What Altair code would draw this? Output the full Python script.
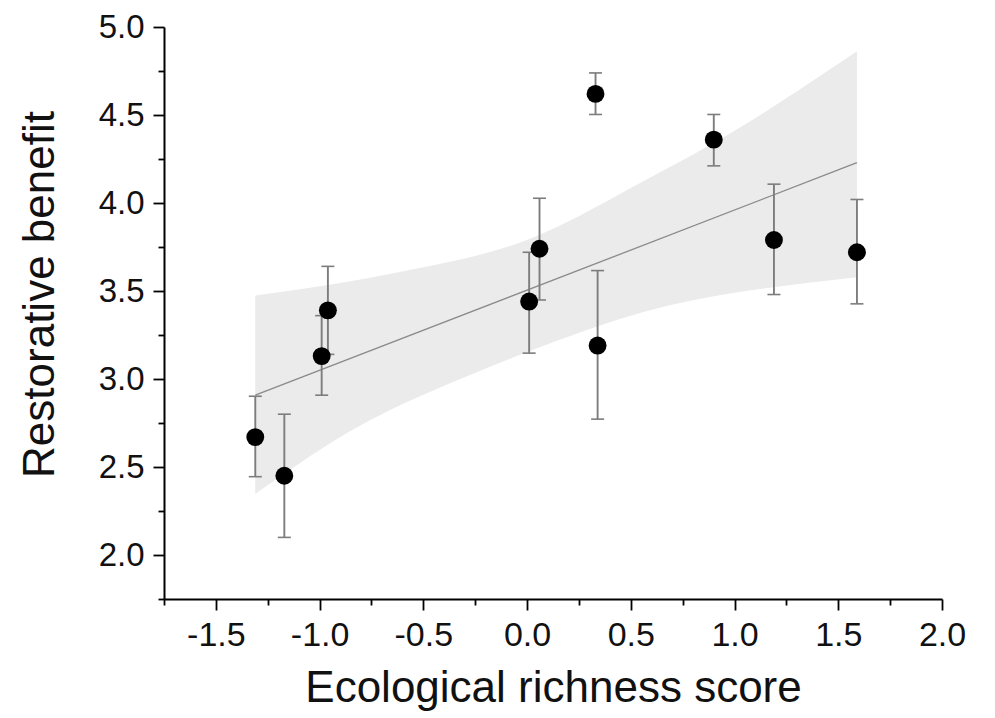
import altair as alt
import pandas as pd

# Points (mean and error-bar ends)
pt_x = [-1.31, -1.17, -0.99, -0.96, 0.01, 0.06, 0.33, 0.34, 0.90, 1.19, 1.59]
pt_y = [2.67, 2.45, 3.13, 3.39, 3.44, 3.74, 4.62, 3.19, 4.36, 3.79, 3.72]
pt_lo = [2.445, 2.10, 2.908, 3.14, 3.147, 3.449, 4.503, 2.772, 4.211, 3.48, 3.427]
pt_hi = [2.902, 2.80, 3.36, 3.64, 3.720, 4.027, 4.739, 3.616, 4.503, 4.107, 4.02]

# Fitted line end points
fit_x = [-1.31, 1.59]
fit_y = [2.908, 4.229]

# Confidence band
band_x = [-1.31, -0.9, -0.5, 0.0, 0.5, 1.0, 1.59]
band_lo = [2.347, 2.67, 2.91, 3.153, 3.36, 3.49, 3.578]
band_hi = [3.475, 3.545, 3.635, 3.79, 4.085, 4.41, 4.862]

x_major = [-1.5, -1.0, -0.5, 0.0, 0.5, 1.0, 1.5, 2.0]
x_minor = [-1.75, -1.25, -0.75, -0.25, 0.25, 0.75, 1.25, 1.75]
y_major = [2.0, 2.5, 3.0, 3.5, 4.0, 4.5, 5.0]
y_minor = [1.75, 2.25, 2.75, 3.25, 3.75, 4.25, 4.75]

pts = pd.DataFrame({"x": pt_x, "y": pt_y, "lo": pt_lo, "hi": pt_hi})
fit = pd.DataFrame({"x": fit_x, "y": fit_y})
band = pd.DataFrame({"x": band_x, "lo": band_lo, "hi": band_hi})

FONT = "Liberation Sans"
TXT = "#111111"
xscale = alt.Scale(domain=[-1.75, 2.0], nice=False, zero=False)
yscale = alt.Scale(domain=[1.75, 5.0], nice=False, zero=False)
lab = "(datum.value < 0 ? '-' : '') + format(abs(datum.value), '.1f')"

x_axis_major = alt.Axis(
    orient="bottom", values=x_major, labelExpr=lab, grid=False,
    tickSize=11, tickWidth=1.8, tickColor="black",
    domainColor="black", domainWidth=2,
    labelFont=FONT, labelFontSize=34, labelColor=TXT, labelPadding=8,
    labelFlush=False, labelOverlap=False,
    title="Ecological richness score", titleFont=FONT, titleFontSize=44,
    titleFontWeight="normal", titleColor=TXT, titleY=102,
    titleBaseline="alphabetic",
)
y_axis_major = alt.Axis(
    orient="left", values=y_major, labelExpr=lab, grid=False,
    tickSize=11, tickWidth=1.8, tickColor="black",
    domainColor="black", domainWidth=2,
    labelFont=FONT, labelFontSize=33, labelColor=TXT, labelPadding=9,
    labelFlush=False, labelOverlap=False,
    title="Restorative benefit", titleFont=FONT, titleFontSize=44,
    titleFontWeight="normal", titleColor=TXT, titleAngle=270,
    titleX=-111, titleY=267, titleAlign="center", titleBaseline="alphabetic",
)
x_axis_minor = alt.Axis(
    orient="bottom", values=x_minor, labels=False, grid=False, domain=False,
    tickSize=6, tickWidth=1.8, tickColor="black", title="",
)
y_axis_minor = alt.Axis(
    orient="left", values=y_minor, labels=False, grid=False, domain=False,
    tickSize=6, tickWidth=1.8, tickColor="black", title="",
)

band_layer = alt.Chart(band).mark_area(color="#ebebeb", interpolate="natural").encode(
    x=alt.X("x:Q", scale=xscale, axis=x_axis_major),
    y=alt.Y("lo:Q", scale=yscale, axis=y_axis_major),
    y2="hi:Q",
)
line_layer = alt.Chart(fit).mark_line(color="#8a8a8a", strokeWidth=1.3).encode(
    x=alt.X("x:Q", scale=xscale, axis=x_axis_minor),
    y=alt.Y("y:Q", scale=yscale, axis=y_axis_minor),
)
rule_layer = alt.Chart(pts).mark_rule(color="#7d7d7d", strokeWidth=1.9).encode(
    x=alt.X("x:Q", scale=xscale, axis=None),
    y=alt.Y("lo:Q", scale=yscale, axis=None),
    y2="hi:Q",
)
cap_lo = alt.Chart(pts).mark_tick(orient="horizontal", color="#7d7d7d", size=13, thickness=1.6, opacity=1).encode(
    x=alt.X("x:Q", scale=xscale, axis=None),
    y=alt.Y("lo:Q", scale=yscale, axis=None),
)
cap_hi = alt.Chart(pts).mark_tick(orient="horizontal", color="#7d7d7d", size=13, thickness=1.6, opacity=1).encode(
    x=alt.X("x:Q", scale=xscale, axis=None),
    y=alt.Y("hi:Q", scale=yscale, axis=None),
)
pt_layer = alt.Chart(pts).mark_circle(color="black", size=320, opacity=1).encode(
    x=alt.X("x:Q", scale=xscale, axis=None),
    y=alt.Y("y:Q", scale=yscale, axis=None),
)

chart = (
    alt.layer(band_layer, line_layer, rule_layer, cap_lo, cap_hi, pt_layer)
    .resolve_axis(x="independent", y="independent")
    .properties(
        width=778, height=572,
        autosize=alt.AutoSizeParams(type="none"),
        padding={"left": 156, "top": 19, "right": 40, "bottom": 116},
        background="white",
    )
    .configure_view(stroke=None)
)

chart.save("out.html", embed_options={"renderer": "svg", "actions": False})
